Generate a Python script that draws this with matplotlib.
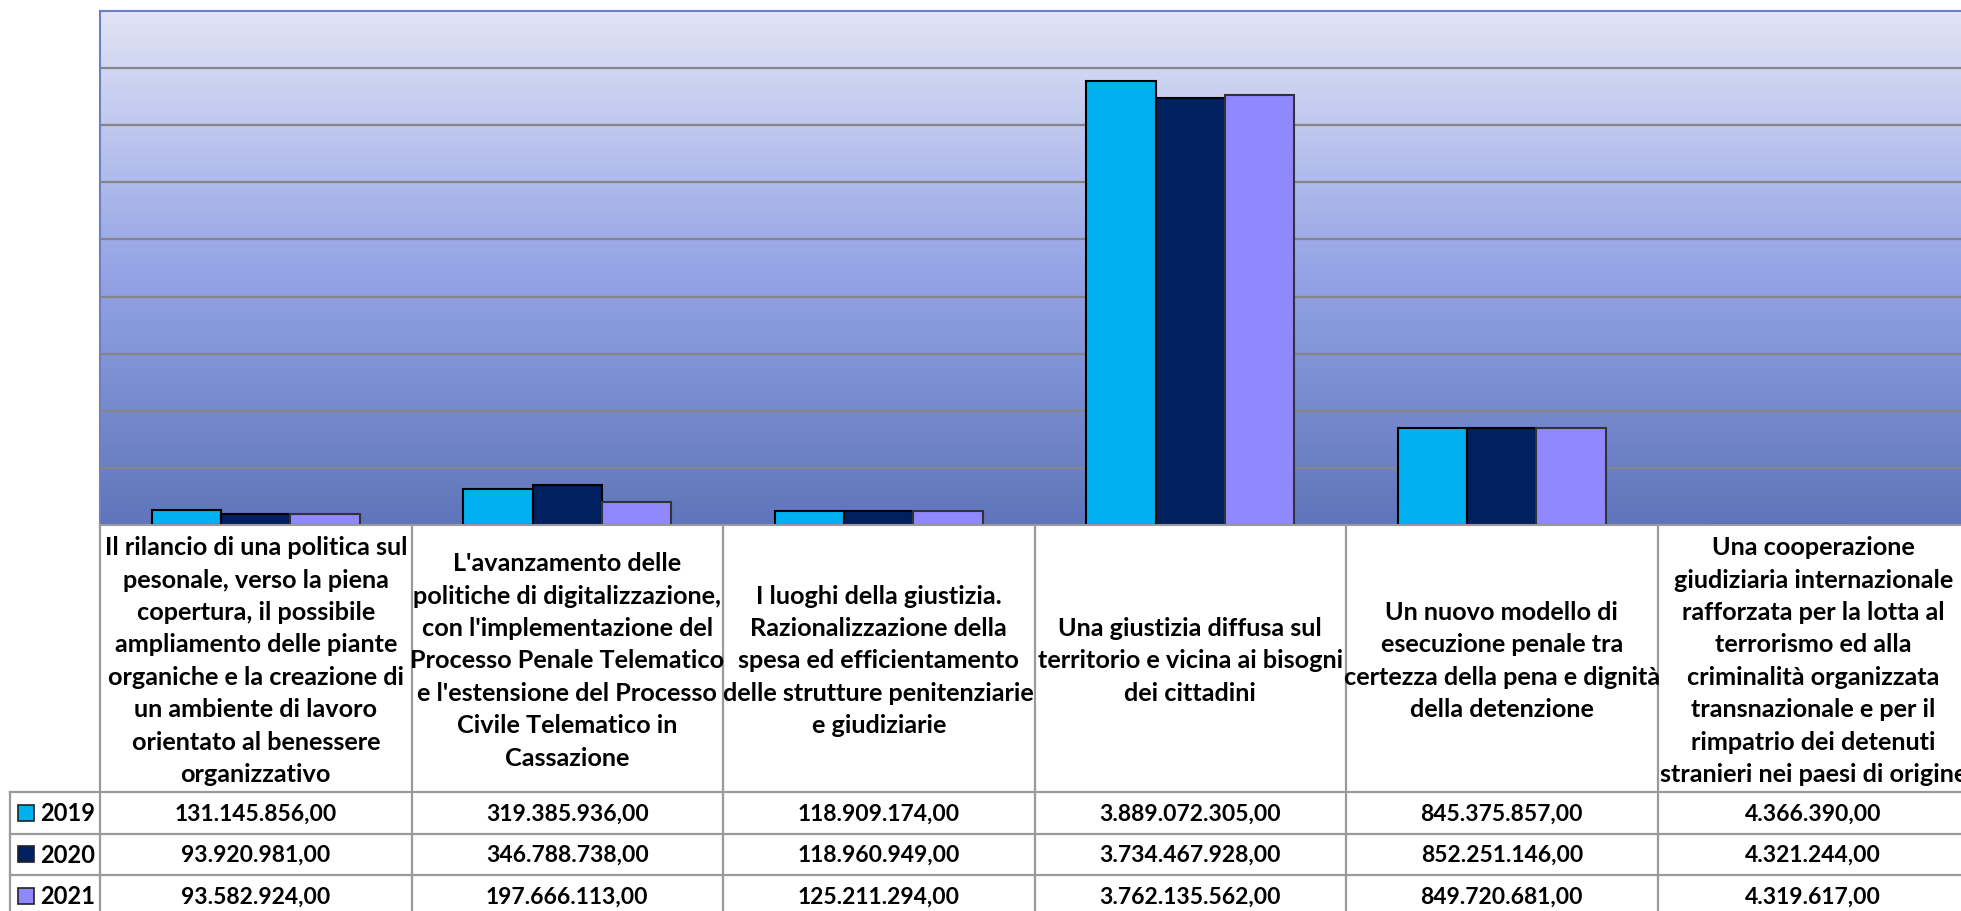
import numpy as np
import matplotlib.pyplot as plt
from matplotlib.colors import LinearSegmentedColormap
from matplotlib.lines import Line2D
from matplotlib.patches import Rectangle

W, H = 1961, 912

categories = [
    "Il rilancio di una politica sul\npesonale, verso la piena\ncopertura, il possibile\n"
    "ampliamento delle piante\norganiche e la creazione di\nun ambiente di lavoro\n"
    "orientato al benessere\norganizzativo",
    "L'avanzamento delle\npolitiche di digitalizzazione,\ncon l'implementazione del\n"
    "Processo Penale Telematico\ne l'estensione del Processo\nCivile Telematico in\nCassazione",
    "I luoghi della giustizia.\nRazionalizzazione della\nspesa ed efficientamento\n"
    "delle strutture penitenziarie\ne giudiziarie",
    "Una giustizia diffusa sul\nterritorio e vicina ai bisogni\ndei cittadini",
    "Un nuovo modello di\nesecuzione penale tra\ncertezza della pena e dignità\ndella detenzione",
    "Una cooperazione\ngiudiziaria internazionale\nrafforzata per la lotta al\nterrorismo ed alla\n"
    "criminalità organizzata\ntransnazionale e per il\nrimpatrio dei detenuti\n"
    "stranieri nei paesi di origine",
]
years = ['2019', '2020', '2021']
v2019 = [131145856.00, 319385936.00, 118909174.00, 3889072305.00, 845375857.00, 4366390.00]
v2020 = [93920981.00, 346788738.00, 118960949.00, 3734467928.00, 852251146.00, 4321244.00]
v2021 = [93582924.00, 197666113.00, 125211294.00, 3762135562.00, 849720681.00, 4319617.00]
series = [v2019, v2020, v2021]
colors = ['#00B0F0', '#002060', '#8F88FF']
edges = ['#000000', '#000000', '#333333']


def fmt(v):
    s = '{:,.2f}'.format(v)
    return s.replace(',', 'X').replace('.', ',').replace('X', '.')


plt.rcParams['font.family'] = ['Lato', 'DejaVu Sans']
fig = plt.figure(figsize=(W / 100, H / 100), dpi=100)

# layout in pixels
left, top, bottom = 100, 12, 526
colw = 311.5
right = left + colw * len(categories)
ax = fig.add_axes([left / W, 1 - bottom / H, (right - left) / W, (bottom - top) / H])

x = np.arange(len(categories))
ax.set_xlim(-0.5, len(categories) - 0.5)
ax.set_ylim(0, 4.5e9)

# gradient background
cmap = LinearSegmentedColormap.from_list('bg', ['#5F74BA', '#95A5E6', '#E1E4F5'])
grad = np.linspace(0, 1, 256).reshape(-1, 1)
ax.imshow(grad, cmap=cmap, origin='lower', aspect='auto',
          extent=[-0.5, len(categories) - 0.5, 0, 4.5e9], zorder=0)

for yv in np.arange(5e8, 4.5e9, 5e8):
    ax.axhline(yv, color='#858585', lw=1.6, zorder=1)

bw = 69.3 / colw
for i, vals in enumerate(series):
    ax.bar(x + (i - 1) * bw, vals, width=bw, color=colors[i], edgecolor=edges[i],
           linewidth=1.5, zorder=2)

ax.set_xticks([])
ax.set_yticks([])
for s in ['left', 'top']:
    ax.spines[s].set_color('#6C80C2')
    ax.spines[s].set_linewidth(1.5)
ax.spines['right'].set_visible(False)
ax.spines['bottom'].set_color('#999999')
ax.spines['bottom'].set_linewidth(1.5)

# data table below the plot
hdr_bot = 793
row_h = 41.5
rows_y = [hdr_bot + row_h * k for k in range(4)]
lc = '#9A9A9A'


def fx(px):
    return px / W


def fy(py):
    return 1 - py / H


def hline(x0, x1, y):
    fig.add_artist(Line2D([fx(x0), fx(x1)], [fy(y), fy(y)], color=lc, lw=1.6))


def vline(xp, y0, y1):
    fig.add_artist(Line2D([fx(xp), fx(xp)], [fy(y0), fy(y1)], color=lc, lw=1.6))


for k, yv in enumerate(rows_y):
    hline(10, right, yv)
for j in range(len(categories) + 1):
    vline(left + colw * j, bottom, H + 5)
vline(10, hdr_bot, H + 5)

pitch = 32.4
base_mid = 668.5
for j, cat in enumerate(categories):
    cx = left + colw * (j + 0.5)
    lines = cat.split('\n')
    n = len(lines)
    for k, ln in enumerate(lines):
        by = base_mid + (k - (n - 1) / 2) * pitch
        fig.text(fx(cx), fy(by), ln, ha='center', va='baseline',
                 fontsize=18.2, fontweight='bold')
    for i, vals in enumerate(series):
        fig.text(fx(cx), fy(rows_y[i] + row_h / 2), fmt(vals[j]), ha='center',
                 va='center', fontsize=16.5, fontweight='bold')

for i, yr in enumerate(years):
    cy = rows_y[i] + row_h / 2
    fig.add_artist(Rectangle((fx(18), fy(cy + 8)), 16 / W, 16 / H, facecolor=colors[i],
                             edgecolor='#222222', lw=1.2))
    fig.text(fx(40), fy(cy), yr, ha='left', va='center', fontsize=17, fontweight='bold')

fig.savefig('out.png', dpi=100)
